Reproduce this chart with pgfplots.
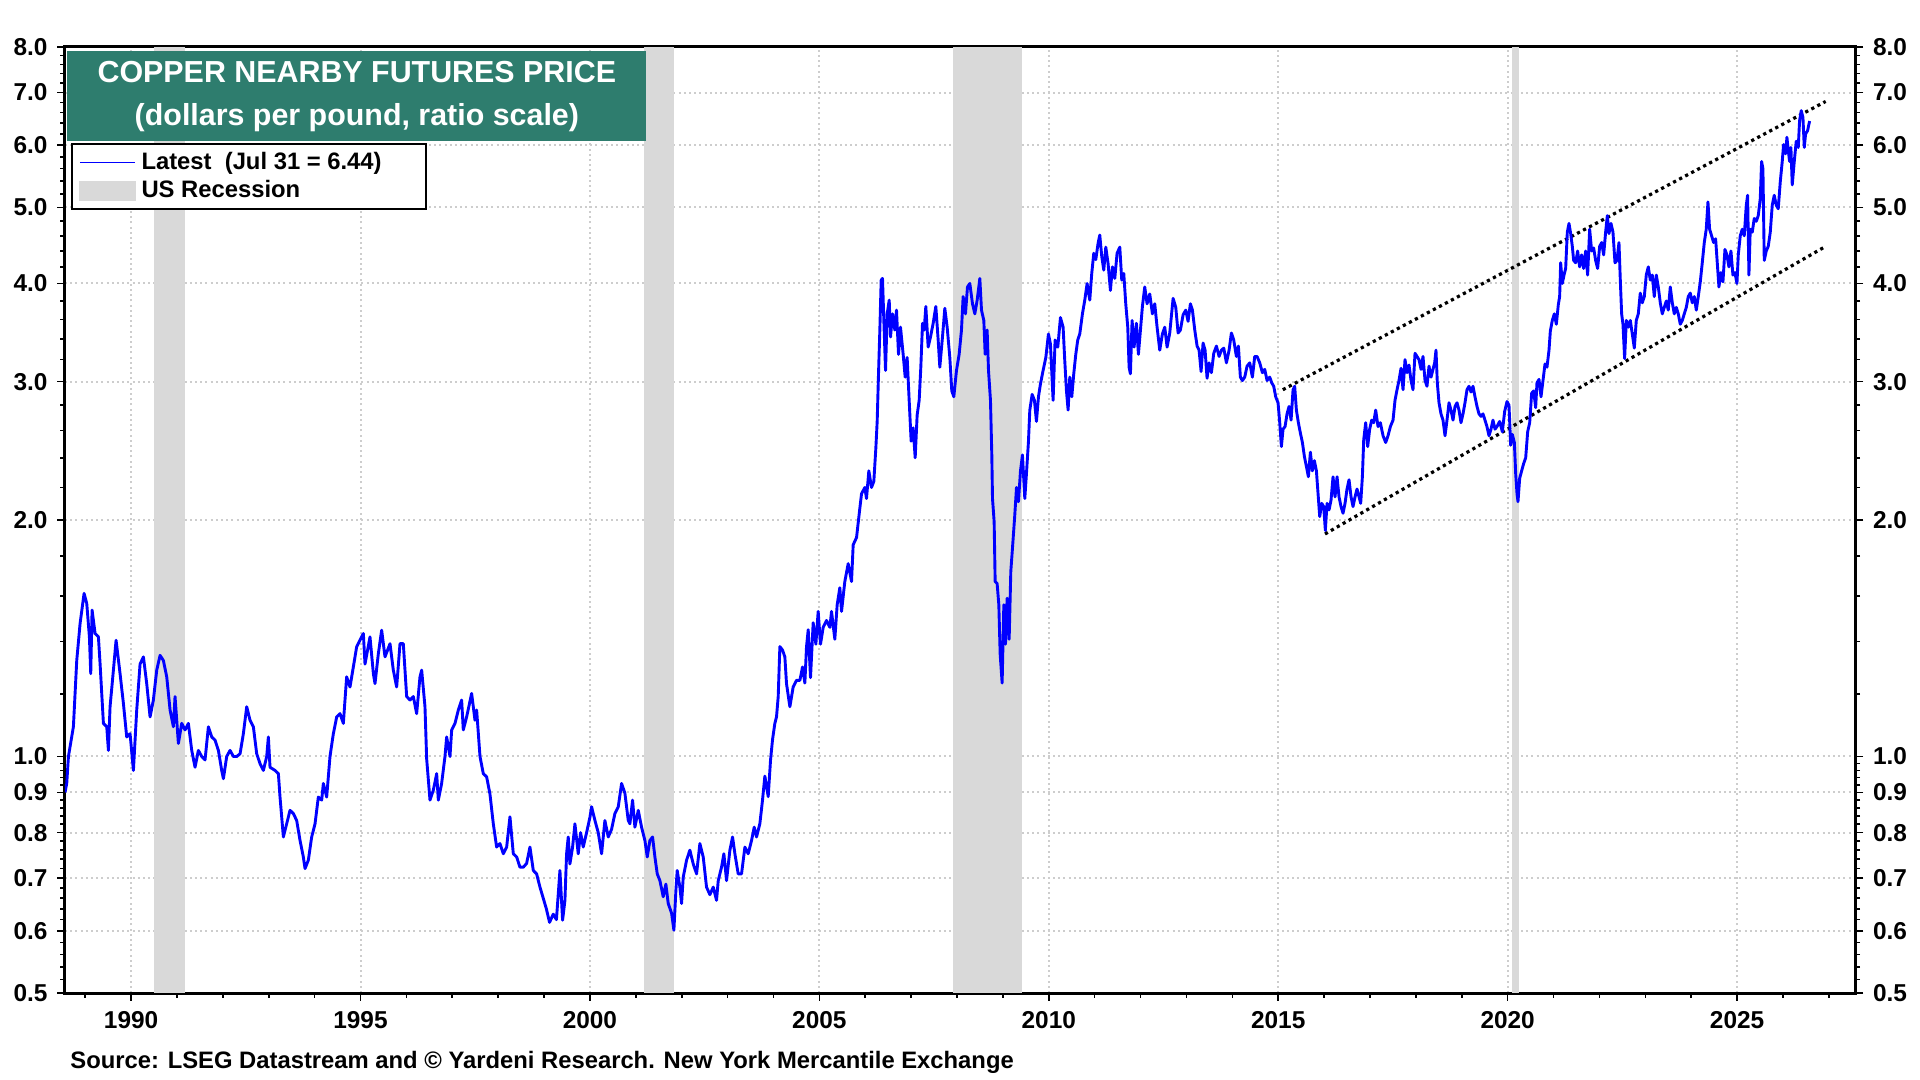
\documentclass[border=0pt]{standalone}
\usepackage{fontspec}
\setmainfont{Liberation Sans}
\usepackage{pgfplots}
\pgfplotsset{compat=1.18}
\definecolor{teal1}{RGB}{46,125,110}
\definecolor{recg}{RGB}{217,217,217}
\definecolor{gridg}{RGB}{205,205,205}
\begin{document}
\begin{tikzpicture}
\useasboundingbox (0,0) rectangle (960pt,540pt);
\begin{axis}[
  at={(32.5pt,43.5pt)}, anchor=south west,
  width=895pt, height=473pt, scale only axis,
  xmin=1988.56, xmax=2027.57,
  ymode=log, ymin=0.5, ymax=8,
  ytick={0.5,0.6,0.7,0.8,0.9,1,2,3,4,5,6,7,8},
  yticklabels={0.5,0.6,0.7,0.8,0.9,1.0,2.0,3.0,4.0,5.0,6.0,7.0,8.0},
  minor ytick={0.52,0.54,0.56,0.58,0.62,0.64,0.66,0.68,0.72,0.74,0.76,0.78,0.82,0.84,0.86,0.88,0.92,0.94,0.96,0.98,1.2,1.4,1.6,1.8,2.2,2.4,2.6,2.8,3.2,3.4,3.6,3.8,4.2,4.4,4.6,4.8,5.2,5.4,5.6,5.8,6.2,6.4,6.6,6.8,7.2,7.4,7.6,7.8},
  extra y ticks={0.5,0.6,0.7,0.8,0.9,1,2,3,4,5,6,7,8},
  extra y tick labels={0.5,0.6,0.7,0.8,0.9,1.0,2.0,3.0,4.0,5.0,6.0,7.0,8.0},
  extra y tick style={yticklabel pos=right, grid=none, major tick length=4pt, yticklabel style={xshift=2.7pt}},
  tick align=outside,
  major tick length=4pt, minor tick length=2.5pt,
  every tick/.style={black, line width=0.8pt},
  tick label style={font=\fontsize{12.2}{13}\selectfont\bfseries},
  xticklabel style={yshift=-1.8pt},
  yticklabel style={xshift=-1.2pt},
  axis line style={line width=1.5pt},
  ytick pos=both, yticklabel pos=left, xtick pos=bottom,
  xtick={1990,1995,2000,2005,2010,2015,2020,2025},
  xticklabels={1990,1995,2000,2005,2010,2015,2020,2025},
  minor xtick={1989,1991,1992,1993,1994,1996,1997,1998,1999,2001,2002,2003,2004,2006,2007,2008,2009,2011,2012,2013,2014,2016,2017,2018,2019,2021,2022,2023,2024,2026,2027},
  grid=major,
  major grid style={gridg, line width=1pt, dash pattern=on 1pt off 1.6pt},
  legend cell align=left,
  legend style={at={(rel axis cs:0.0032,0.898)}, anchor=north west, draw=black, line width=1pt, fill=white,
    font=\fontsize{11.9}{10.6}\selectfont\bfseries, inner xsep=3.6pt, inner ysep=2.0pt, row sep=0pt,
    cells={anchor=west}},
]
% recession bars
\addplot[fill=recg, draw=none, forget plot] coordinates {(1990.50,0.5) (1990.50,8) (1991.17,8) (1991.17,0.5)};
\addplot[fill=recg, draw=none, forget plot] coordinates {(2001.17,0.5) (2001.17,8) (2001.83,8) (2001.83,0.5)};
\addplot[fill=recg, draw=none, forget plot] coordinates {(2007.92,0.5) (2007.92,8) (2009.42,8) (2009.42,0.5)};
\addplot[fill=recg, draw=none, forget plot] coordinates {(2020.10,0.5) (2020.10,8) (2020.24,8) (2020.24,0.5)};
% trend channel
\addplot[black, line width=1.6pt, dash pattern=on 1.6pt off 1.8pt, forget plot] coordinates {(2015.10,2.93) (2026.93,6.82)};
\addplot[black, line width=1.6pt, dash pattern=on 1.6pt off 1.8pt, forget plot] coordinates {(2016.02,1.92) (2026.93,4.46)};
% copper price
\addplot[blue, line width=1.45pt, line join=round,
  legend image code/.code={\draw[blue, line width=0.7pt] (0pt,0pt) -- (27.5pt,0pt);}]
table[x=x, y=y] {
x y
1988.56 0.90
1988.598 0.924
1988.635 1.000
1988.743 1.091
1988.816 1.325
1988.889 1.477
1988.976 1.613
1989.034 1.566
1989.092 1.420
1989.121 1.275
1989.150 1.536
1989.216 1.434
1989.288 1.420
1989.325 1.311
1989.397 1.102
1989.470 1.091
1989.506 1.018
1989.542 1.157
1989.615 1.288
1989.673 1.406
1989.760 1.275
1989.833 1.168
1989.905 1.059
1989.978 1.069
1990.051 0.960
1990.123 1.146
1990.196 1.311
1990.269 1.339
1990.341 1.238
1990.414 1.123
1990.486 1.180
1990.559 1.288
1990.632 1.345
1990.704 1.325
1990.777 1.263
1990.850 1.146
1990.922 1.091
1990.958 1.192
1991.031 1.039
1991.104 1.102
1991.176 1.081
1991.249 1.102
1991.322 1.018
1991.394 0.969
1991.467 1.018
1991.540 1.000
1991.612 0.990
1991.685 1.091
1991.757 1.059
1991.830 1.049
1991.903 1.018
1991.975 0.960
1992.012 0.937
1992.084 1.000
1992.157 1.018
1992.230 1.000
1992.302 1.000
1992.375 1.008
1992.447 1.069
1992.520 1.157
1992.593 1.112
1992.665 1.091
1992.738 1.008
1992.811 0.979
1992.883 0.960
1992.956 1.000
1992.992 1.059
1993.028 0.969
1993.137 0.960
1993.210 0.951
1993.246 0.888
1993.319 0.790
1993.391 0.821
1993.464 0.854
1993.537 0.846
1993.609 0.829
1993.682 0.782
1993.754 0.745
1993.791 0.720
1993.863 0.738
1993.936 0.790
1994.009 0.821
1994.081 0.888
1994.154 0.880
1994.190 0.924
1994.263 0.888
1994.335 1.000
1994.408 1.069
1994.481 1.123
1994.553 1.134
1994.626 1.102
1994.698 1.263
1994.771 1.226
1994.844 1.300
1994.916 1.379
1994.989 1.406
1995.062 1.434
1995.098 1.311
1995.207 1.420
1995.280 1.275
1995.316 1.238
1995.389 1.352
1995.461 1.448
1995.534 1.339
1995.643 1.392
1995.715 1.288
1995.788 1.226
1995.861 1.392
1995.933 1.392
1996.006 1.192
1996.079 1.180
1996.151 1.192
1996.224 1.134
1996.296 1.263
1996.333 1.288
1996.405 1.157
1996.442 0.993
1996.514 0.880
1996.587 0.906
1996.660 0.951
1996.696 0.880
1996.768 0.924
1996.841 1.000
1996.877 1.059
1996.950 1.000
1996.987 1.081
1997.059 1.102
1997.132 1.146
1997.204 1.180
1997.240 1.081
1997.313 1.123
1997.422 1.203
1997.495 1.112
1997.531 1.146
1997.604 1.000
1997.676 0.951
1997.749 0.942
1997.821 0.896
1997.894 0.821
1997.967 0.767
1998.039 0.775
1998.112 0.752
1998.185 0.767
1998.257 0.838
1998.330 0.752
1998.403 0.745
1998.475 0.723
1998.548 0.723
1998.620 0.731
1998.693 0.767
1998.766 0.716
1998.838 0.709
1998.911 0.682
1998.983 0.660
1999.05 0.640
1999.12 0.615
1999.20 0.630
1999.27 0.620
1999.346 0.716
1999.404 0.619
1999.455 0.656
1999.491 0.752
1999.527 0.790
1999.564 0.730
1999.622 0.767
1999.673 0.821
1999.745 0.752
1999.796 0.800
1999.854 0.767
1999.927 0.800
2000.000 0.837
2000.036 0.863
2000.109 0.829
2000.181 0.800
2000.254 0.752
2000.326 0.829
2000.399 0.790
2000.472 0.808
2000.544 0.846
2000.617 0.863
2000.690 0.924
2000.762 0.898
2000.835 0.829
2000.871 0.821
2000.929 0.880
2000.980 0.813
2001.053 0.854
2001.125 0.813
2001.198 0.782
2001.249 0.745
2001.307 0.782
2001.365 0.790
2001.416 0.745
2001.467 0.709
2001.525 0.695
2001.597 0.663
2001.655 0.688
2001.706 0.650
2001.779 0.632
2001.830 0.601
2001.873 0.675
2001.902 0.716
2001.960 0.682
2001.997 0.650
2002.033 0.702
2002.106 0.738
2002.178 0.760
2002.251 0.730
2002.324 0.709
2002.396 0.775
2002.469 0.745
2002.541 0.682
2002.614 0.667
2002.687 0.682
2002.759 0.656
2002.796 0.695
2002.868 0.723
2002.919 0.752
2002.977 0.695
2003.050 0.760
2003.108 0.790
2003.159 0.752
2003.231 0.709
2003.304 0.709
2003.377 0.767
2003.449 0.752
2003.522 0.782
2003.580 0.813
2003.631 0.790
2003.703 0.821
2003.761 0.880
2003.812 0.944
2003.885 0.889
2003.936 0.990
2003.979 1.050
2004.030 1.102
2004.066 1.123
2004.103 1.192
2004.139 1.380
2004.197 1.366
2004.248 1.339
2004.284 1.238
2004.357 1.157
2004.429 1.226
2004.502 1.250
2004.575 1.25
2004.633 1.30
2004.684 1.24
2004.720 1.38
2004.757 1.45
2004.807 1.26
2004.865 1.48
2004.924 1.39
2004.974 1.53
2005.025 1.39
2005.083 1.46
2005.156 1.49
2005.229 1.46
2005.265 1.53
2005.337 1.41
2005.388 1.56
2005.446 1.64
2005.483 1.53
2005.555 1.67
2005.628 1.76
2005.701 1.67
2005.737 1.86
2005.810 1.90
2005.882 2.07
2005.919 2.16
2005.991 2.20
2006.027 2.13
2006.078 2.31
2006.136 2.20
2006.187 2.24
2006.231 2.47
2006.260 2.67
2006.289 3.07
2006.318 3.49
2006.347 4.04
2006.376 4.06
2006.405 3.59
2006.442 3.10
2006.478 3.66
2006.522 3.81
2006.551 3.42
2006.594 3.66
2006.645 3.49
2006.681 3.70
2006.725 3.25
2006.768 3.52
2006.826 3.25
2006.870 3.04
2006.913 3.22
2006.957 2.84
2007.000 2.52
2007.044 2.62
2007.088 2.40
2007.131 2.72
2007.175 2.84
2007.211 3.13
2007.248 3.56
2007.284 3.49
2007.320 3.74
2007.371 3.32
2007.422 3.42
2007.480 3.56
2007.538 3.74
2007.589 3.39
2007.625 3.13
2007.683 3.42
2007.734 3.72
2007.785 3.52
2007.843 3.22
2007.886 2.92
2007.930 2.87
2007.988 3.10
2008.046 3.25
2008.097 3.49
2008.133 3.85
2008.184 3.66
2008.228 3.96
2008.279 4.00
2008.337 3.77
2008.388 3.66
2008.439 3.81
2008.497 4.06
2008.533 3.70
2008.584 3.59
2008.613 3.25
2008.656 3.49
2008.686 3.10
2008.729 2.84
2008.758 2.42
2008.773 2.13
2008.809 1.99
2008.831 1.67
2008.874 1.66
2008.911 1.56
2008.940 1.35
2008.983 1.24
2009.020 1.56
2009.056 1.39
2009.092 1.59
2009.136 1.41
2009.172 1.72
2009.208 1.84
2009.259 2.03
2009.296 2.20
2009.339 2.11
2009.383 2.31
2009.426 2.42
2009.477 2.13
2009.513 2.29
2009.557 2.52
2009.586 2.76
2009.637 2.89
2009.687 2.84
2009.731 2.67
2009.775 2.87
2009.818 2.98
2009.876 3.10
2009.935 3.22
2009.992 3.45
2010.036 3.35
2010.094 2.84
2010.137 3.39
2010.196 3.32
2010.254 3.62
2010.312 3.52
2010.348 3.19
2010.385 2.92
2010.421 2.76
2010.457 3.04
2010.501 2.87
2010.544 3.07
2010.588 3.25
2010.631 3.39
2010.675 3.45
2010.733 3.66
2010.784 3.81
2010.835 4.00
2010.893 3.81
2010.936 4.12
2010.980 4.37
2011.024 4.29
2011.074 4.50
2011.111 4.61
2011.154 4.33
2011.198 4.16
2011.242 4.45
2011.292 4.24
2011.343 3.92
2011.387 4.20
2011.438 4.06
2011.488 4.37
2011.547 4.45
2011.590 4.04
2011.634 4.12
2011.677 3.77
2011.721 3.52
2011.750 3.13
2011.779 3.07
2011.815 3.59
2011.859 3.32
2011.910 3.56
2011.953 3.25
2011.997 3.49
2012.040 3.74
2012.091 3.96
2012.142 3.77
2012.200 3.88
2012.258 3.66
2012.309 3.77
2012.360 3.52
2012.418 3.29
2012.476 3.45
2012.527 3.52
2012.578 3.32
2012.636 3.46
2012.709 3.83
2012.767 3.73
2012.818 3.46
2012.868 3.49
2012.927 3.65
2012.985 3.70
2013.035 3.58
2013.086 3.77
2013.130 3.70
2013.181 3.49
2013.232 3.33
2013.275 3.29
2013.319 3.09
2013.362 3.36
2013.406 3.29
2013.449 3.03
2013.493 3.17
2013.544 3.08
2013.595 3.26
2013.653 3.33
2013.711 3.23
2013.762 3.29
2013.813 3.31
2013.871 3.17
2013.929 3.29
2013.979 3.46
2014.030 3.39
2014.088 3.23
2014.132 3.33
2014.175 3.04
2014.219 3.01
2014.270 3.04
2014.321 3.14
2014.379 3.17
2014.437 3.04
2014.488 3.23
2014.539 3.23
2014.597 3.17
2014.655 3.08
2014.706 3.11
2014.757 3.01
2014.815 3.04
2014.858 2.99
2014.902 2.96
2014.945 2.87
2014.996 2.82
2015.033 2.66
2015.069 2.48
2015.105 2.61
2015.149 2.63
2015.192 2.73
2015.236 2.79
2015.280 2.68
2015.323 2.93
2015.359 2.96
2015.396 2.76
2015.439 2.66
2015.483 2.58
2015.527 2.51
2015.570 2.41
2015.614 2.34
2015.657 2.27
2015.701 2.44
2015.744 2.31
2015.788 2.38
2015.832 2.31
2015.868 2.16
2015.904 2.02
2015.948 2.10
2015.991 2.08
2016.027 1.94
2016.064 2.10
2016.107 2.06
2016.151 2.12
2016.194 2.27
2016.238 2.14
2016.282 2.27
2016.325 2.14
2016.369 2.08
2016.412 2.04
2016.456 2.10
2016.499 2.19
2016.543 2.25
2016.587 2.14
2016.630 2.08
2016.674 2.14
2016.717 2.19
2016.761 2.14
2016.797 2.10
2016.834 2.27
2016.863 2.53
2016.906 2.66
2016.950 2.48
2016.993 2.61
2017.037 2.68
2017.080 2.66
2017.124 2.76
2017.175 2.63
2017.226 2.66
2017.284 2.56
2017.342 2.51
2017.393 2.56
2017.444 2.63
2017.502 2.68
2017.545 2.84
2017.589 2.93
2017.632 3.01
2017.676 3.12
2017.720 2.93
2017.763 3.20
2017.807 3.08
2017.850 3.15
2017.894 3.01
2017.937 2.93
2017.981 3.26
2018.025 3.23
2018.068 3.20
2018.112 3.11
2018.155 3.23
2018.199 3.01
2018.242 2.96
2018.286 3.14
2018.330 3.04
2018.373 3.11
2018.409 3.17
2018.438 3.29
2018.467 2.99
2018.504 2.82
2018.547 2.73
2018.591 2.68
2018.635 2.56
2018.678 2.68
2018.722 2.82
2018.765 2.76
2018.809 2.68
2018.853 2.79
2018.896 2.82
2018.940 2.76
2018.983 2.66
2019.027 2.73
2019.070 2.82
2019.114 2.93
2019.157 2.96
2019.201 2.91
2019.245 2.96
2019.288 2.87
2019.332 2.79
2019.375 2.73
2019.419 2.71
2019.462 2.73
2019.506 2.68
2019.549 2.63
2019.593 2.56
2019.637 2.61
2019.680 2.68
2019.724 2.61
2019.767 2.63
2019.826 2.67
2019.884 2.59
2019.935 2.75
2019.986 2.83
2020.029 2.80
2020.066 2.49
2020.102 2.57
2020.146 2.51
2020.175 2.29
2020.204 2.16
2020.225 2.11
2020.262 2.26
2020.305 2.31
2020.349 2.36
2020.393 2.40
2020.436 2.59
2020.480 2.66
2020.523 2.90
2020.567 2.92
2020.610 2.78
2020.639 2.99
2020.683 3.02
2020.727 2.87
2020.770 3.01
2020.814 3.16
2020.857 3.13
2020.901 3.29
2020.930 3.48
2020.973 3.59
2021.017 3.66
2021.061 3.55
2021.104 3.76
2021.133 3.85
2021.155 4.25
2021.191 4.00
2021.228 4.10
2021.264 4.18
2021.300 4.65
2021.337 4.77
2021.373 4.63
2021.409 4.46
2021.438 4.28
2021.482 4.25
2021.525 4.40
2021.569 4.20
2021.612 4.35
2021.656 4.18
2021.700 4.40
2021.743 4.10
2021.787 4.69
2021.830 4.40
2021.874 4.44
2021.917 4.28
2021.961 4.18
2022.005 4.46
2022.048 4.51
2022.092 4.35
2022.135 4.65
2022.172 4.88
2022.208 4.63
2022.252 4.77
2022.295 4.65
2022.339 4.25
2022.382 4.28
2022.426 4.51
2022.455 4.04
2022.484 3.66
2022.513 3.55
2022.549 3.21
2022.586 3.59
2022.629 3.52
2022.673 3.59
2022.716 3.45
2022.760 3.31
2022.803 3.59
2022.847 3.66
2022.890 3.89
2022.934 3.78
2022.978 3.85
2023.021 4.10
2023.065 4.20
2023.108 4.04
2023.152 4.10
2023.195 3.85
2023.239 4.10
2023.283 3.96
2023.326 3.78
2023.370 3.66
2023.413 3.73
2023.457 3.80
2023.500 3.70
2023.544 3.96
2023.588 3.78
2023.631 3.66
2023.675 3.73
2023.718 3.66
2023.762 3.55
2023.806 3.59
2023.849 3.66
2023.893 3.73
2023.936 3.85
2023.980 3.89
2024.023 3.78
2024.067 3.85
2024.111 3.70
2024.154 3.85
2024.198 4.02
2024.241 4.25
2024.285 4.51
2024.328 4.69
2024.365 5.08
2024.401 4.69
2024.445 4.60
2024.488 4.51
2024.532 4.56
2024.568 4.25
2024.604 3.96
2024.648 4.13
2024.692 4.02
2024.735 4.42
2024.779 4.35
2024.822 4.20
2024.866 4.40
2024.909 4.10
2024.953 4.13
2024.997 4.00
2025.026 4.35
2025.069 4.60
2025.113 4.69
2025.156 4.60
2025.200 5.03
2025.229 5.18
2025.258 4.10
2025.287 4.69
2025.331 4.65
2025.374 4.84
2025.418 4.80
2025.461 4.88
2025.505 5.13
2025.534 5.72
2025.563 5.60
2025.592 4.28
2025.636 4.40
2025.679 4.46
2025.723 4.65
2025.766 5.03
2025.810 5.18
2025.854 5.03
2025.897 4.98
2025.941 5.39
2025.984 5.72
2026.013 6.01
2026.057 5.85
2026.086 6.14
2026.115 5.91
2026.144 5.72
2026.173 5.96
2026.202 5.34
2026.246 5.72
2026.289 6.07
2026.333 5.96
2026.362 6.45
2026.398 6.64
2026.435 6.51
2026.464 5.96
2026.493 6.20
2026.536 6.26
2026.580 6.44
};
\addlegendentry{\strut\hspace*{0.8pt}\makebox[136.7pt][l]{Latest\ \ (Jul 31 = 6.44)}}
\addlegendimage{legend image code/.code={\fill[recg] (0pt,-4.5pt) rectangle (27.5pt,4.5pt);}}
\addlegendentry{\strut\hspace*{0.8pt}\makebox[136.7pt][l]{US Recession}}
\node[fill=teal1, text=white, anchor=north west, minimum width=289.5pt, minimum height=45pt,
  inner sep=0pt, align=center, font=\fontsize{15.2}{21.25}\selectfont\bfseries]
  at (rel axis cs:0.0011,0.9958) {COPPER NEARBY FUTURES PRICE\\(dollars per pound, ratio scale)};
\end{axis}
\node[anchor=west, inner sep=0pt, font=\fontsize{11.9}{13}\selectfont\bfseries] at (35pt,8.65pt)
  {Source: LSEG Datastream and © Yardeni Research. New York Mercantile Exchange};
\end{tikzpicture}
\end{document}
